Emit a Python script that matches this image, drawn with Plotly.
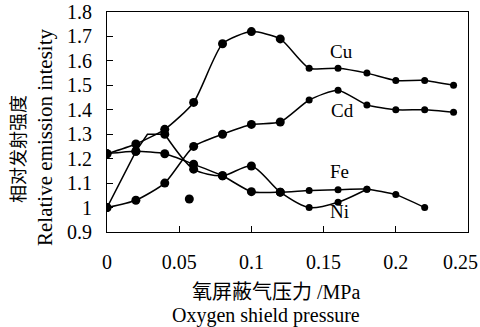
import plotly.graph_objects as go

# ---- data ----
pressure = [0, 0.02, 0.04, 0.06, 0.08, 0.10, 0.12, 0.14, 0.16, 0.18, 0.20, 0.22, 0.24]
cu = [1.22, 1.26, 1.32, 1.43, 1.67, 1.72, 1.69, 1.57, 1.57, 1.55, 1.52, 1.52, 1.50]
cd = [1.00, 1.03, 1.10, 1.25, 1.30, 1.34, 1.35, 1.44, 1.48, 1.42, 1.40, 1.40, 1.39]

fe_x = [0, 0.02, 0.04, 0.06, 0.08, 0.10, 0.12, 0.14, 0.16, 0.18, 0.20, 0.22]
fe = [1.22, 1.23, 1.22, 1.177, 1.13, 1.065, 1.063, 1.07, 1.073, 1.075, 1.053, 1.00]

ni_x = [0, 0.02, 0.028, 0.04, 0.06, 0.08, 0.10, 0.12, 0.14, 0.16, 0.18]
ni = [1.00, 1.23, 1.30, 1.30, 1.157, 1.13, 1.17, 1.063, 1.00, 1.022, 1.075]
ni_marked = [True, True, False, True, True, True, True, True, True, True, True]

stray_x = [0.057]
stray_y = [1.035]

series_names = ["Cu", "Cd", "Fe", "Ni"]
label_x = [0.1623, 0.163, 0.161, 0.161]
label_y = [1.638, 1.399, 1.147, 0.983]

x_ticks = [0, 0.05, 0.1, 0.15, 0.2, 0.25]
x_tick_labels = ["0", "0.05", "0.1", "0.15", "0.2", "0.25\u00a0\u00a0\u00a0"]
y_ticks = [0.9, 1.0, 1.1, 1.2, 1.3, 1.4, 1.5, 1.6, 1.7, 1.8]
y_tick_labels = ["0.9", "1", "1.1", "1.2", "1.3", "1.4", "1.5", "1.6", "1.7", "1.8"]

SERIF = "Liberation Serif, Times New Roman, Noto Sans CJK SC, serif"
LW = 1.5

# plot area in pixels
L, R, T, B = 107, 468, 12, 232
PW, PH = R - L, B - T


def px(xp):
    return (xp - L) / PW


def py(yp):
    return 1 - (yp - T) / PH


def msize(xs):
    return [9 if v < 0.13 else 7 for v in xs]


def mk(sizes):
    return dict(color="black", size=sizes, opacity=1, line=dict(width=0, color="black"))


fig = go.Figure()

# lines
fig.add_trace(go.Scatter(x=pressure, y=cu, mode="lines",
                         line=dict(color="black", width=LW, shape="spline", smoothing=0.6)))
fig.add_trace(go.Scatter(x=pressure, y=cd, mode="lines",
                         line=dict(color="black", width=LW, shape="spline", smoothing=0.6)))
fig.add_trace(go.Scatter(x=fe_x, y=fe, mode="lines",
                         line=dict(color="black", width=LW, shape="spline", smoothing=0.6)))
fig.add_trace(go.Scatter(x=ni_x[:4], y=ni[:4], mode="lines",
                         line=dict(color="black", width=LW)))
fig.add_trace(go.Scatter(x=ni_x[3:], y=ni[3:], mode="lines",
                         line=dict(color="black", width=LW, shape="spline", smoothing=0.8)))

# markers
for xs, ys in [(pressure, cu), (pressure, cd), (fe_x, fe)]:
    fig.add_trace(go.Scatter(x=xs, y=ys, mode="markers", marker=mk(msize(xs))))
nx = [a for a, m in zip(ni_x, ni_marked) if m]
ny = [b for b, m in zip(ni, ni_marked) if m]
fig.add_trace(go.Scatter(x=nx, y=ny, mode="markers", marker=mk(msize(nx))))
fig.add_trace(go.Scatter(x=stray_x, y=stray_y, mode="markers", marker=mk(9)))

# series labels
for t, lx, ly in zip(series_names, label_x, label_y):
    fig.add_annotation(x=lx, y=ly, text=t, showarrow=False,
                       font=dict(family=SERIF, size=19, color="black"))

# axis titles as annotations
fig.add_annotation(xref="paper", yref="paper", x=px(362), y=py(292),
                   xanchor="right", yanchor="middle", showarrow=False,
                   text="氧屏蔽气压力 /MPa", font=dict(family=SERIF, size=20, color="black"))
fig.add_annotation(xref="paper", yref="paper", x=px(362), y=py(315),
                   xanchor="right", yanchor="middle", showarrow=False,
                   text="Oxygen shield pressure", font=dict(family=SERIF, size=20, color="black"))
fig.add_annotation(xref="paper", yref="paper", x=px(19), y=py(149),
                   xanchor="center", yanchor="middle", showarrow=False, textangle=-90,
                   text="相对发射强度", font=dict(family=SERIF, size=18, color="black"))
fig.add_annotation(xref="paper", yref="paper", x=px(45), y=py(138),
                   xanchor="center", yanchor="middle", showarrow=False, textangle=-90,
                   text="Relative emission intesity", font=dict(family=SERIF, size=21, color="black"))

fig.update_layout(
    width=480, height=327,
    margin=dict(l=L, r=480 - R, t=T, b=327 - B, autoexpand=False),
    paper_bgcolor="white", plot_bgcolor="white",
    showlegend=False, hovermode=False,
    font=dict(family=SERIF, size=20, color="black"),
)
fig.update_xaxes(range=[0, 0.25], tickvals=x_ticks, ticktext=x_tick_labels,
                 ticks="inside", ticklen=6, tickcolor="black", tickwidth=1,
                 showline=True, linecolor="black", linewidth=1, mirror=True,
                 showgrid=False, zeroline=False, ticklabelstandoff=12,
                 automargin=False, ticklabeloverflow="allow",
                 tickfont=dict(family=SERIF, size=20, color="black"))
fig.update_yaxes(range=[0.9, 1.8], tickvals=y_ticks, ticktext=y_tick_labels,
                 ticks="inside", ticklen=6, tickcolor="black", tickwidth=1,
                 showline=True, linecolor="black", linewidth=1, mirror=True,
                 showgrid=False, zeroline=False, ticklabelstandoff=10,
                 automargin=False,
                 tickfont=dict(family=SERIF, size=20, color="black"))

fig.write_html(
    "out.html",
    config={"displayModeBar": False, "staticPlot": True},
    post_script="document.body.style.margin='0';document.body.style.padding='0';"
                "document.body.style.overflow='hidden';",
)
